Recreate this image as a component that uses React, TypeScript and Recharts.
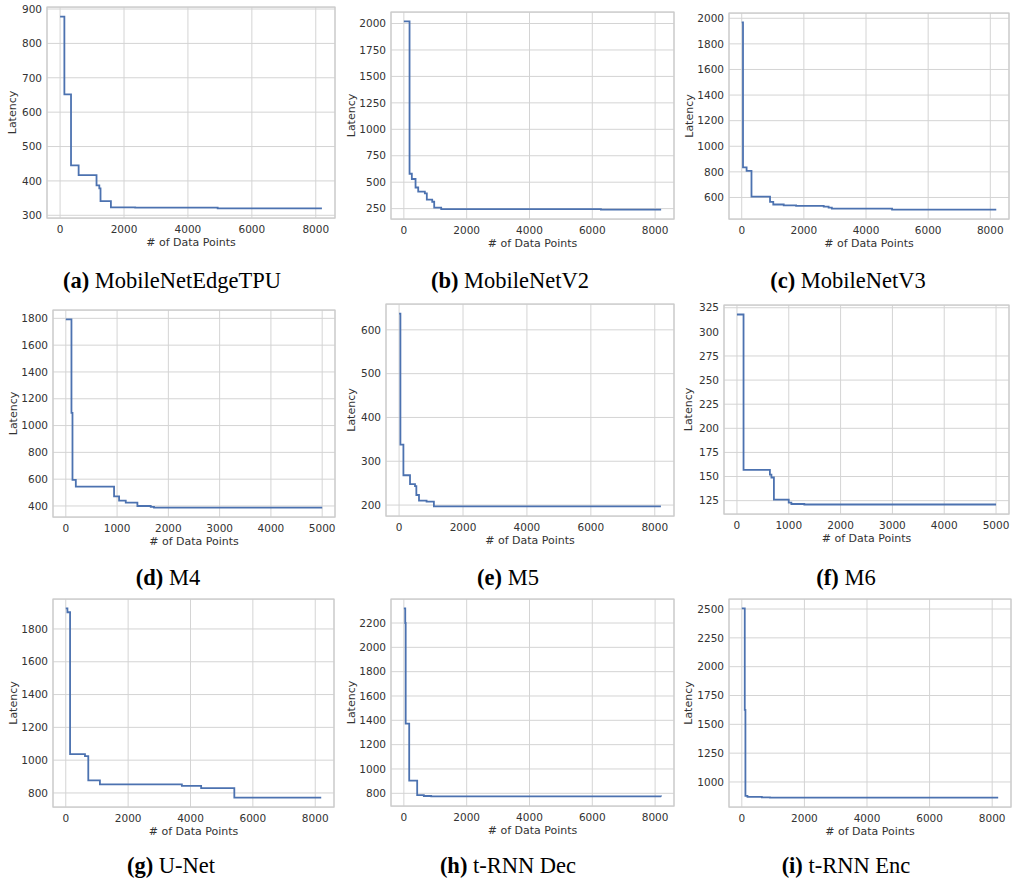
import React from 'react';
import {
  CartesianGrid, Label, Line, LineChart, ReferenceArea, XAxis, YAxis,
} from 'recharts';

// best latency found so far, step points
const edgeTpuX = [0, 134, 342, 580, 1140, 1227, 1265, 1590, 2350, 4930, 8192];
const edgeTpuY = [878, 652, 445, 417, 387, 378, 341, 323, 322, 320, 320];

const v2X = [0, 181, 254, 372, 457, 668, 731, 903, 966, 1189, 6275, 8192];
const v2Y = [2020, 580, 530, 450, 410, 395, 335, 315, 260, 246, 241, 241];

const v3X = [0, 41, 157, 314, 911, 1015, 1351, 1750, 2639, 2796, 2900, 4838, 8192];
const v3Y = [1968, 835, 808, 607, 565, 545, 538, 535, 528, 520, 513, 505, 505];

const m4X = [0, 110, 130, 195, 941, 1039, 1169, 1396, 1656, 1720, 5000];
const m4Y = [1792, 1095, 595, 545, 472, 440, 425, 400, 393, 388, 388];

const m5X = [0, 41, 135, 342, 498, 540, 623, 860, 1089, 8192];
const m5Y = [637, 338, 268, 248, 243, 223, 210, 208, 197, 197];

const m6X = [0, 127, 636, 665, 713, 999, 1050, 1300, 5000];
const m6Y = [318, 157, 152, 149, 126, 123, 121.5, 121, 121];

const unetX = [0, 53, 138, 616, 722, 1095, 3723, 4341, 5405, 8192];
const unetY = [1925, 1902, 1037, 1025, 877, 852, 843, 830, 772, 772];

const decX = [0, 44, 58, 170, 424, 636, 870, 8192];
const decY = [2320, 2200, 1373, 904, 785, 778, 775, 773];

const encX = [0, 94, 115, 180, 640, 900, 8192];
const encY = [2505, 1625, 880, 870, 866, 865, 865];

const xTicks8k = [0, 2000, 4000, 6000, 8000];
const xTicks5k = [0, 1000, 2000, 3000, 4000, 5000];

const edgeTpuTicks = [300, 400, 500, 600, 700, 800, 900];
const v2Ticks = [250, 500, 750, 1000, 1250, 1500, 1750, 2000];
const v3Ticks = [600, 800, 1000, 1200, 1400, 1600, 1800, 2000];
const m4Ticks = [400, 600, 800, 1000, 1200, 1400, 1600, 1800];
const m5Ticks = [200, 300, 400, 500, 600];
const m6Ticks = [125, 150, 175, 200, 225, 250, 275, 300, 325];
const unetTicks = [800, 1000, 1200, 1400, 1600, 1800];
const decTicks = [800, 1000, 1200, 1400, 1600, 1800, 2000, 2200];
const encTicks = [1000, 1250, 1500, 1750, 2000, 2250, 2500];

const tags = ['(a)', '(b)', '(c)', '(d)', '(e)', '(f)', '(g)', '(h)', '(i)'];
const names = ['MobileNetEdgeTPU', 'MobileNetV2', 'MobileNetV3', 'M4', 'M5', 'M6', 'U-Net', 't-RNN Dec', 't-RNN Enc'];

const panels = [
  { xs: edgeTpuX, ys: edgeTpuY, xt: xTicks8k, yt: edgeTpuTicks, box: [47, 7, 335, 218], gap: 35, cap: [172, 281] },
  { xs: v2X, ys: v2Y, xt: xTicks8k, yt: v2Ticks, box: [391, 12, 674, 219], gap: 40, cap: [510, 281] },
  { xs: v3X, ys: v3Y, xt: xTicks8k, yt: v3Ticks, box: [729, 13, 1009, 219], gap: 40, cap: [848, 281] },
  { xs: m4X, ys: m4Y, xt: xTicks5k, yt: m4Ticks, box: [53, 310, 335, 517], gap: 40, cap: [168, 578] },
  { xs: m5X, ys: m5Y, xt: xTicks8k, yt: m5Ticks, box: [386, 304, 674, 516], gap: 35, cap: [508, 578] },
  { xs: m6X, ys: m6Y, xt: xTicks5k, yt: m6Ticks, box: [724, 305, 1009, 514], gap: 36, cap: [846, 578] },
  { xs: unetX, ys: unetY, xt: xTicks8k, yt: unetTicks, box: [53, 599, 334, 807], gap: 40, cap: [171, 866] },
  { xs: decX, ys: decY, xt: xTicks8k, yt: decTicks, box: [391, 599, 674, 806], gap: 40, cap: [508, 866] },
  { xs: encX, ys: encY, xt: xTicks8k, yt: encTicks, box: [729, 599, 1011, 807], gap: 41, cap: [846, 866] },
];

const tickStyle = { fontSize: 10.5, fontFamily: 'DejaVu Sans', fill: '#333' };

function Panel(props: any) {
  const { xs, ys, xt, yt, box, gap } = props;
  const data = xs.map((x: number, i: number) => ({ x, y: ys[i] }));
  const xMax = xs[xs.length - 1];
  const yMin = Math.min(...ys);
  const yMax = Math.max(...ys);
  const xDom = [-xMax * 0.05, xMax * 1.05];
  const yPad = (yMax - yMin) * 0.05;
  const yDom = [yMin - yPad, yMax + yPad];

  const axisW = gap * 2;
  const padT = 5;
  const padR = 5;
  const padB = 35;
  const w = box[2] - box[0] + axisW + padR;
  const h = box[3] - box[1] + padT + padB;

  return (
    <div style={{ position: 'absolute', left: box[0] - axisW, top: box[1] - padT }}>
      <LineChart width={w} height={h} data={data} margin={{ top: padT, right: padR, left: 0, bottom: 0 }}>
        <CartesianGrid stroke='#d4d4d4' strokeWidth={1} />
        <XAxis
          type='number' dataKey='x' domain={xDom} ticks={xt} height={padB}
          axisLine={false} tickLine={false} tickSize={6} tickMargin={2} tick={tickStyle}
        >
          <Label value='# of Data Points' position='insideBottom' offset={7}
            fontSize={11} fontFamily='DejaVu Sans' fill='#333' />
        </XAxis>
        <YAxis
          type='number' dataKey='y' domain={yDom} ticks={yt} width={axisW}
          axisLine={false} tickLine={false} tickSize={3} tickMargin={2} tick={tickStyle}
        >
          <Label value='Latency' position='center' angle={-90}
            fontSize={11} fontFamily='DejaVu Sans' fill='#333' />
        </YAxis>
        <ReferenceArea x1={xDom[0]} x2={xDom[1]} y1={yDom[0]} y2={yDom[1]}
          fill='none' stroke='#cccccc' strokeWidth={1.25} />
        <Line type='stepAfter' dataKey='y' stroke='#4c72b0' strokeWidth={1.8}
          dot={false} isAnimationActive={false} />
      </LineChart>
    </div>
  );
}

export default function App() {
  return (
    <div style={{ position: 'absolute', left: 0, top: 0, width: 1013, height: 879, background: '#fff', overflow: 'hidden' }}>
      {panels.map((p, i) => (
        <Panel key={i} {...p} />
      ))}
      {panels.map((p, i) => (
        <div key={'c' + i} style={{
          position: 'absolute', left: p.cap[0] - 170, top: p.cap[1] - 13, width: 340,
          textAlign: 'center', lineHeight: '26px', fontSize: 22.5, fontFamily: 'Liberation Serif', color: '#000',
        }}>
          <b>{tags[i]}</b> {names[i]}
        </div>
      ))}
    </div>
  );
}
